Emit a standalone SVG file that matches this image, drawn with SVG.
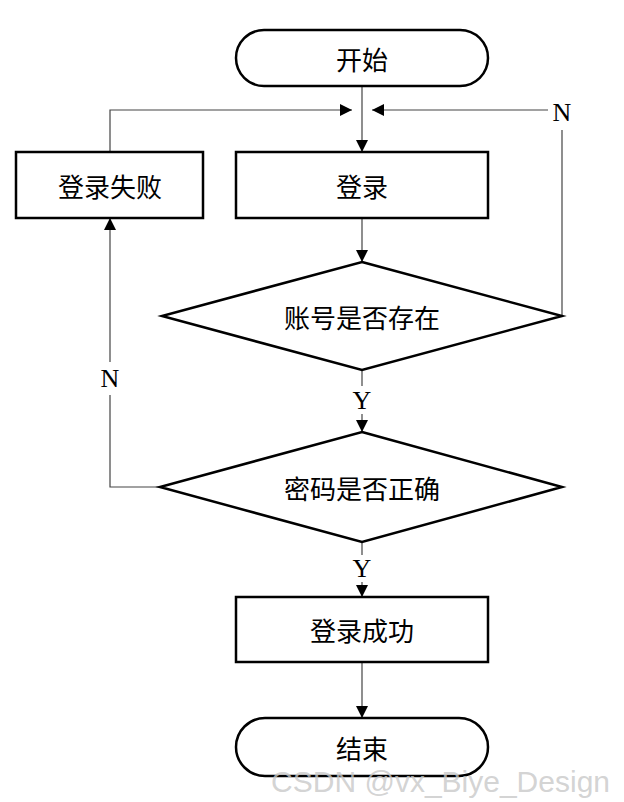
<svg xmlns="http://www.w3.org/2000/svg" width="624" height="802" viewBox="0 0 624 802">
<defs>
<marker id="a" viewBox="0 0 10 10" refX="10" refY="5" markerWidth="12" markerHeight="12" markerUnits="userSpaceOnUse" orient="auto"><path d="M0,0L10,5L0,10z" fill="#000"/></marker>
<style>
.n{fill:#fff;stroke:#000;stroke-width:2.5}
.t{font-family:"Noto Sans CJK SC","Liberation Serif",serif;font-size:26px;text-anchor:middle;dominant-baseline:central;fill:#000}
.l{font-family:"Liberation Serif",serif;font-size:26px;text-anchor:middle;dominant-baseline:central;fill:#000}
.c{fill:none;stroke:#444;stroke-width:1.2}
</style>
</defs>
<rect width="624" height="802" fill="#fff"/>
<g id="connectors">
<path class="c" d="M362,86V110" />
<path class="c" d="M362,110V152" marker-end="url(#a)"/>
<path class="c" d="M110,152V110H352" marker-end="url(#a)"/>
<path class="c" d="M562,316V130"/>
<path class="c" d="M548,110H372" marker-end="url(#a)"/>
<path class="c" d="M362,218V262" marker-end="url(#a)"/>
<path class="c" d="M362,370V386"/>
<path class="c" d="M362,414V432" marker-end="url(#a)"/>
<path class="c" d="M160,487H110V395"/>
<path class="c" d="M110,362V218" marker-end="url(#a)"/>
<path class="c" d="M362,542V555"/>
<path class="c" d="M362,582V597" marker-end="url(#a)"/>
<path class="c" d="M362,662V718" marker-end="url(#a)"/>
<text class="l" x="562" y="112">N</text>
<text class="l" x="362" y="400">Y</text>
<text class="l" x="110" y="378">N</text>
<text class="l" x="362" y="568">Y</text>
</g>
<g id="start"><rect class="n" x="236" y="30" width="252" height="56" rx="28"/><text class="t" x="362" y="58">开始</text></g>
<g id="login"><rect class="n" x="236" y="152" width="252" height="66"/><text class="t" x="362" y="185">登录</text></g>
<g id="fail"><rect class="n" x="16" y="152" width="187" height="66"/><text class="t" x="110" y="185">登录失败</text></g>
<g id="d1"><polygon class="n" points="362,262 562,316 362,370 162,316"/><text class="t" x="362" y="316">账号是否存在</text></g>
<g id="d2"><polygon class="n" points="362,432 562,487 362,542 160,487"/><text class="t" x="362" y="487">密码是否正确</text></g>
<g id="ok"><rect class="n" x="236" y="597" width="252" height="65"/><text class="t" x="362" y="629">登录成功</text></g>
<g id="end"><rect class="n" x="236" y="718" width="252" height="58" rx="29"/><text class="t" x="362" y="747">结束</text></g>
<text x="610" y="792" font-family="Liberation Sans,sans-serif" font-size="30" fill="#c8c8c8" fill-opacity="0.8" text-anchor="end">CSDN @vx_Biye_Design</text>
</svg>
